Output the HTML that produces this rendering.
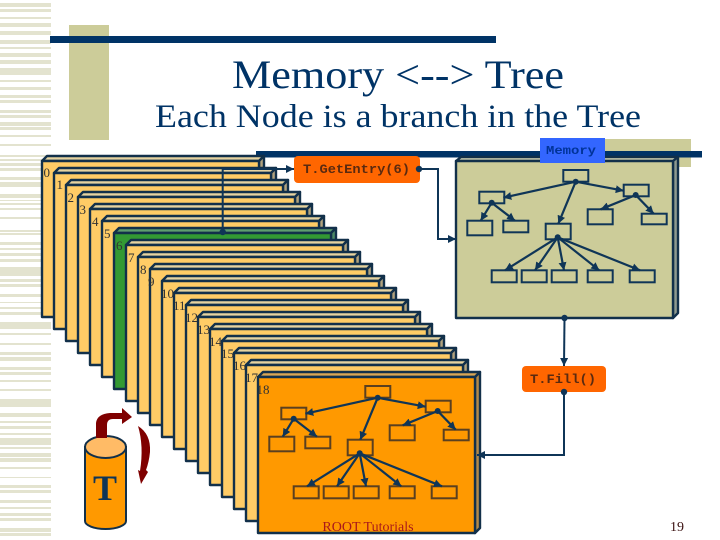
<!DOCTYPE html>
<html>
<head>
<meta charset="utf-8">
<style>
html,body{margin:0;padding:0;background:#fff}
svg{display:block}
.lb{font-family:"Liberation Serif",serif;font-size:13px;fill:#333}
.mono{font-family:"Liberation Mono",monospace;font-weight:bold}
.c{color:#ffcc66;--t:#e6d3a0;--s:#b3a37e}
</style>
</head>
<body>
<svg width="720" height="540" viewBox="0 0 720 540" xmlns="http://www.w3.org/2000/svg">
<defs>
<marker id="a" viewBox="0 0 10 10" refX="10" refY="5" markerWidth="8" markerHeight="8" markerUnits="userSpaceOnUse" orient="auto"><path d="M0 0L10 5L0 10Z" fill="#0f3557"/></marker>
<g id="card" stroke="#12304a" stroke-width="2.4" stroke-linejoin="round">
<polygon points="0,0 5,-5 222,-5 217,0" style="fill:var(--t)"/>
<polygon points="217,0 222,-5 222,151 217,156" style="fill:var(--s)"/>
<rect x="0" y="0" width="217" height="156" fill="currentColor"/>
</g>
<g id="tree">
<g fill="none" stroke="currentColor" stroke-width="2">
<rect x="563.3" y="170" width="25" height="11.7"/>
<rect x="479.3" y="191.7" width="25" height="11.6"/>
<rect x="623.7" y="184.7" width="25" height="11.6"/>
<rect x="467.3" y="220.7" width="25" height="14.6"/>
<rect x="503.3" y="220.7" width="25" height="11.6"/>
<rect x="545.7" y="223.7" width="25" height="15.6"/>
<rect x="587.7" y="209.3" width="25" height="15"/>
<rect x="641.7" y="213.7" width="25" height="10.6"/>
<rect x="491.7" y="270.3" width="25" height="12"/>
<rect x="521.7" y="270.3" width="25" height="12"/>
<rect x="551.7" y="270.3" width="25" height="12"/>
<rect x="587.7" y="270.3" width="25" height="12"/>
<rect x="629.7" y="270.3" width="25" height="12"/>
</g>
<g fill="none" stroke="#0f3557" stroke-width="2.2">
<line x1="575.7" y1="181.7" x2="503.3" y2="197.7" marker-end="url(#a)"/>
<line x1="575.7" y1="181.7" x2="558.3" y2="223.7" marker-end="url(#a)"/>
<line x1="575.7" y1="181.7" x2="623.7" y2="190.7" marker-end="url(#a)"/>
<line x1="491.7" y1="202.7" x2="480.7" y2="220.7" marker-end="url(#a)"/>
<line x1="491.7" y1="202.7" x2="515" y2="220.7" marker-end="url(#a)"/>
<line x1="635.7" y1="195" x2="600.7" y2="209.3" marker-end="url(#a)"/>
<line x1="635.7" y1="195" x2="653.7" y2="213.7" marker-end="url(#a)"/>
<line x1="557.7" y1="237.3" x2="505" y2="270.3" marker-end="url(#a)"/>
<line x1="557.7" y1="237.3" x2="535" y2="270.3" marker-end="url(#a)"/>
<line x1="557.7" y1="237.3" x2="564" y2="270.3" marker-end="url(#a)"/>
<line x1="557.7" y1="237.3" x2="599.3" y2="270.3" marker-end="url(#a)"/>
<line x1="557.7" y1="237.3" x2="640" y2="270.3" marker-end="url(#a)"/>
</g>
<g fill="#0f3557">
<circle cx="575.7" cy="181.7" r="3"/>
<circle cx="491.7" cy="202.7" r="3"/>
<circle cx="635.7" cy="195" r="3"/>
<circle cx="557.7" cy="237.3" r="3"/>
</g>
</g>
</defs>

<rect width="720" height="540" fill="#fff"/>

<!-- left stripes -->
<g fill="#e3e3cf">
<rect x="0" y="3" width="51" height="4"/><rect x="0" y="9" width="51" height="3"/><rect x="0" y="17" width="51" height="2"/>
<rect x="0" y="23" width="51" height="4"/><rect x="0" y="31" width="51" height="4"/><rect x="0" y="40" width="51" height="4"/>
<rect x="0" y="47" width="51" height="2"/><rect x="0" y="53" width="51" height="4"/><rect x="0" y="60" width="51" height="4"/>
<rect x="0" y="68" width="51" height="7"/><rect x="0" y="80" width="51" height="2"/><rect x="0" y="87" width="51" height="3"/>
<rect x="0" y="95" width="51" height="3"/><rect x="0" y="100" width="51" height="3"/><rect x="0" y="110" width="51" height="3"/>
<rect x="0" y="115" width="51" height="3"/><rect x="0" y="122" width="51" height="4"/><rect x="0" y="127" width="51" height="3"/>
<rect x="0" y="135" width="51" height="2"/><rect x="0" y="144" width="51" height="2"/><rect x="0" y="155" width="51" height="2"/>
<rect x="0" y="159" width="51" height="2"/><rect x="0" y="163" width="51" height="3"/><rect x="0" y="168" width="51" height="3"/>
<rect x="0" y="177" width="51" height="3"/><rect x="0" y="182" width="51" height="5"/><rect x="0" y="194" width="51" height="4"/>
<rect x="0" y="200" width="51" height="1"/><rect x="0" y="203" width="51" height="2"/><rect x="0" y="208" width="51" height="2"/>
<rect x="0" y="217" width="51" height="2"/><rect x="0" y="230" width="51" height="2"/><rect x="0" y="233" width="51" height="2"/>
<rect x="0" y="242" width="51" height="3"/><rect x="0" y="248" width="51" height="2"/><rect x="0" y="253" width="51" height="3"/>
<rect x="0" y="259" width="51" height="3"/><rect x="0" y="267" width="51" height="3"/><rect x="0" y="270" width="51" height="6"/>
<rect x="0" y="279" width="51" height="3"/><rect x="0" y="284" width="51" height="3"/><rect x="0" y="294" width="51" height="3"/>
<rect x="0" y="302" width="51" height="1"/><rect x="0" y="307" width="51" height="2"/><rect x="0" y="312" width="51" height="3"/>
<rect x="0" y="322" width="51" height="7"/><rect x="0" y="333" width="51" height="2"/><rect x="0" y="343" width="51" height="2"/>
<rect x="0" y="352" width="51" height="3"/><rect x="0" y="357" width="51" height="4"/><rect x="0" y="367" width="51" height="3"/>
<rect x="0" y="372" width="51" height="3"/><rect x="0" y="380" width="51" height="2"/><rect x="0" y="389" width="51" height="2"/>
<rect x="0" y="399" width="51" height="8"/><rect x="0" y="413" width="51" height="4"/><rect x="0" y="421" width="51" height="2"/>
<rect x="0" y="426" width="51" height="3"/><rect x="0" y="433" width="51" height="2"/><rect x="0" y="438" width="51" height="7"/>
<rect x="0" y="447" width="51" height="2"/><rect x="0" y="453" width="51" height="4"/><rect x="0" y="458" width="51" height="4"/>
<rect x="0" y="467" width="51" height="2"/><rect x="0" y="477" width="51" height="1"/><rect x="0" y="485" width="51" height="3"/>
<rect x="0" y="490" width="51" height="3"/><rect x="0" y="500" width="51" height="3"/><rect x="0" y="507" width="51" height="2"/>
<rect x="0" y="513" width="51" height="3"/><rect x="0" y="518" width="51" height="3"/><rect x="0" y="528" width="51" height="4"/>
<rect x="0" y="533" width="51" height="3"/>
</g>

<!-- decoration -->
<rect x="69" y="25" width="40" height="115" fill="#cccc99"/>
<rect x="50" y="36" width="446" height="7" fill="#003366"/>
<rect x="605" y="139" width="86" height="28" fill="#cccc99"/>
<rect x="256" y="151" width="446" height="6.5" fill="#003366"/>

<!-- titles -->
<text x="398" y="88" text-anchor="middle" font-family="'Liberation Serif',serif" font-size="40" fill="#003366" textLength="332" lengthAdjust="spacingAndGlyphs">Memory &lt;--&gt; Tree</text>
<text x="398" y="127" text-anchor="middle" font-family="'Liberation Serif',serif" font-size="33" fill="#003366" textLength="486" lengthAdjust="spacingAndGlyphs">Each Node is a branch in the Tree</text>

<!-- stacked cards -->
<use href="#card" class="c" x="42" y="161"/>
<use href="#card" class="c" x="54" y="173"/>
<use href="#card" class="c" x="66" y="185"/>
<use href="#card" class="c" x="78" y="197"/>
<use href="#card" class="c" x="90" y="209"/>
<use href="#card" class="c" x="102" y="221"/>
<use href="#card" x="114" y="233" style="color:#339933;--t:#5f9e6e;--s:#4d8b66"/>
<use href="#card" class="c" x="126" y="245"/>
<use href="#card" class="c" x="138" y="257"/>
<use href="#card" class="c" x="150" y="269"/>
<use href="#card" class="c" x="162" y="281"/>
<use href="#card" class="c" x="174" y="293"/>
<use href="#card" class="c" x="186" y="305"/>
<use href="#card" class="c" x="198" y="317"/>
<use href="#card" class="c" x="210" y="329"/>
<use href="#card" class="c" x="222" y="341"/>
<use href="#card" class="c" x="234" y="353"/>
<use href="#card" class="c" x="246" y="365"/>
<use href="#card" x="258" y="377" style="color:#ff9900;--t:#d9a654;--s:#b38a4a"/>

<!-- labels -->
<text class="lb" x="43.5" y="177">0</text>
<text class="lb" x="56.5" y="189">1</text>
<text class="lb" x="67.5" y="202">2</text>
<text class="lb" x="79.5" y="214">3</text>
<text class="lb" x="92" y="226">4</text>
<text class="lb" x="104" y="238">5</text>
<text class="lb" x="116" y="250">6</text>
<text class="lb" x="128" y="262">7</text>
<text class="lb" x="140" y="274">8</text>
<text class="lb" x="148" y="286">9</text>
<text class="lb" x="161" y="298">10</text>
<text class="lb" x="173" y="310">11</text>
<text class="lb" x="185" y="322">12</text>
<text class="lb" x="197" y="334">13</text>
<text class="lb" x="209" y="346">14</text>
<text class="lb" x="221" y="358">15</text>
<text class="lb" x="233" y="370">16</text>
<text class="lb" x="245" y="382">17</text>
<text class="lb" x="256.5" y="394">18</text>

<!-- tree on last card -->
<use href="#tree" x="-198" y="216" style="color:#5a4020"/>
<text x="368" y="531" text-anchor="middle" font-family="'Liberation Serif',serif" font-size="14" fill="#aa1a1a">ROOT Tutorials</text>

<!-- memory box -->
<g stroke="#12304a" stroke-width="2.4" stroke-linejoin="round">
<polygon points="456,161 461,157 678,157 673,161" fill="#ddddbb"/>
<polygon points="673,161 678,157 678,313 673,318" fill="#8f9a8f"/>
<rect x="456" y="161" width="217" height="157" fill="#cccc99"/>
</g>
<use href="#tree" style="color:#0f3557"/>

<!-- memory tag -->
<rect x="540" y="138" width="65" height="25" fill="#3366ff"/>
<text class="mono" x="546" y="154" font-size="12" fill="#003399" textLength="50" lengthAdjust="spacingAndGlyphs">Memory</text>

<!-- connectors -->
<g fill="none" stroke="#0f3557" stroke-width="2">
<polyline points="222.7,232 222.7,169 294,169" marker-end="url(#a)"/>
<polyline points="419,169 438,169 438,239 456,239" marker-end="url(#a)"/>
<polyline points="564.5,318 564,366" marker-end="url(#a)"/>
<polyline points="564,392 564,455 477,455" marker-end="url(#a)"/>
</g>
<circle cx="222.7" cy="232" r="3.2" fill="#0f3557"/>
<circle cx="564.5" cy="318" r="3.2" fill="#0f3557"/>

<!-- method boxes -->
<rect x="294" y="156" width="126" height="27" rx="4" fill="#ff6600"/>
<text class="mono" x="303" y="173" font-size="12.5" fill="#5a2a10" textLength="107" lengthAdjust="spacingAndGlyphs">T.GetEntry(6)</text>
<circle cx="419" cy="169" r="3.2" fill="#0f3557"/>
<rect x="522" y="366" width="84" height="26" rx="4" fill="#ff6600"/>
<text class="mono" x="530" y="383" font-size="12.5" fill="#5a2a10" textLength="66" lengthAdjust="spacingAndGlyphs">T.Fill()</text>
<circle cx="564" cy="392" r="3.2" fill="#0f3557"/>

<!-- cylinder -->
<path d="M85 447V521A20.5 8 0 0 0 126 521V447Z" fill="#ff9900" stroke="#12304a" stroke-width="2"/>
<ellipse cx="105.5" cy="447" rx="20.5" ry="11" fill="#ffbb66" stroke="#12304a" stroke-width="2"/>
<text x="105" y="500" text-anchor="middle" font-family="'Liberation Serif',serif" font-weight="bold" font-size="36" fill="#0f3557">T</text>

<!-- red arrows -->
<path d="M96 438V423Q97 414 110 413L122 413V408L132 417L122 424V419H113Q107 419 107 425V438Z" fill="#7f0000"/>
<path d="M138 426Q151 434 150 452Q149 462 146 470L148 472L141 484L138 470L140 471Q144 446 138 426Z" fill="#7f0000"/>

<!-- page number -->
<text x="677" y="531" text-anchor="middle" font-family="'Liberation Serif',serif" font-size="14" fill="#3a1010">19</text>
</svg>
</body>
</html>
